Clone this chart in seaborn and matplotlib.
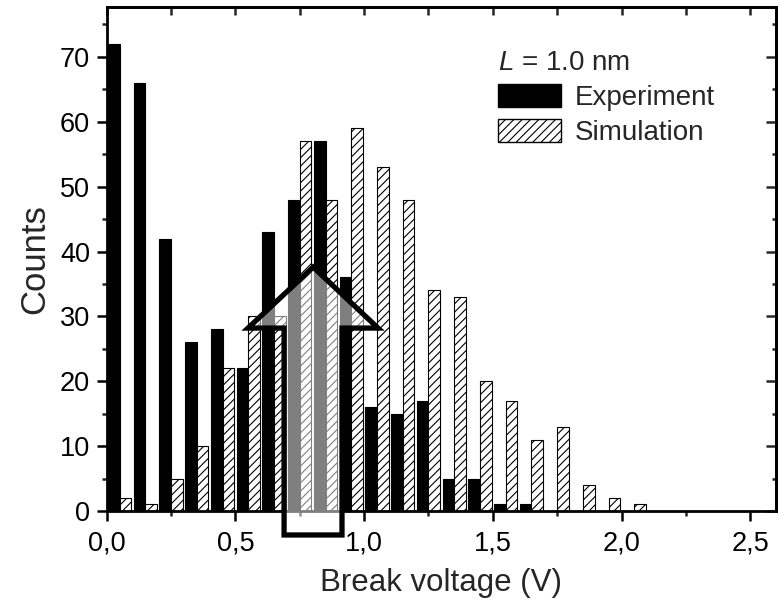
import numpy as np
import pandas as pd
import matplotlib
matplotlib.use('Agg')
import matplotlib.pyplot as plt
import seaborn as sns
from matplotlib.patches import Patch, Polygon
from matplotlib.ticker import MultipleLocator

# Bin centres of the break-voltage histogram (V) and counts per series
bin_centers = [0.05, 0.15, 0.25, 0.35, 0.45, 0.55, 0.65, 0.75, 0.85, 0.95, 1.05,
               1.15, 1.25, 1.35, 1.45, 1.55, 1.65, 1.75, 1.85, 1.95, 2.05]
experiment = [72, 66, 42, 26, 28, 22, 43, 48, 57, 36, 16,
              15, 17, 5, 5, 1, 1, 0, 0, 0, 0]
simulation = [2, 1, 5, 10, 22, 30, 30, 57, 48, 59, 53,
              48, 34, 33, 20, 17, 11, 13, 4, 2, 1]
series_names = ['Experiment', 'Simulation']
x_tick_values = [0.0, 0.5, 1.0, 1.5, 2.0, 2.5]
x_tick_labels = ['0,0', '0,5', '1,0', '1,5', '2,0', '2,5']
y_tick_values = [0, 10, 20, 30, 40, 50, 60, 70]

# Outline of the big hollow arrow drawn over the plot (data coords)
arrow_x = [0.802, 1.054, 0.914, 0.914, 0.689, 0.689, 0.549]
arrow_y = [37.6, 28.2, 28.2, -3.7, -3.7, 28.2, 28.2]

df = pd.DataFrame({
    'voltage': bin_centers * 2,
    'counts': experiment + simulation,
    'series': [series_names[0]] * len(experiment) + [series_names[1]] * len(simulation),
})

sns.set_style('ticks')
plt.rcParams['font.family'] = ['Liberation Sans', 'DejaVu Sans']
plt.rcParams['mathtext.fontset'] = 'custom'
plt.rcParams['mathtext.rm'] = 'Liberation Sans'
plt.rcParams['mathtext.it'] = 'Liberation Sans:italic'
plt.rcParams['hatch.linewidth'] = 0.8

fig = plt.figure(figsize=(7.8, 6.02), dpi=100)
ax = fig.add_axes([0.1368, 0.1512, 0.8581, 0.8372])

sns.barplot(data=df, x='voltage', y='counts', hue='series', hue_order=series_names,
            native_scale=True, width=0.9, dodge=True,
            palette={'Experiment': 'black', 'Simulation': 'white'},
            edgecolor='black', linewidth=0.8, saturation=1, legend=False, ax=ax)

# hatch the simulation bars (second hue group)
n = len(bin_centers)
for i, bar in enumerate(ax.patches):
    if i >= n:
        bar.set_hatch('////')
        bar.set_facecolor('white')
        bar.set_edgecolor('black')

ax.set_xlim(0, 2.6)
ax.set_ylim(0, 77.7)
ax.set_xticks(x_tick_values)
ax.set_xticklabels(x_tick_labels)
ax.set_yticks(y_tick_values)
ax.xaxis.set_minor_locator(MultipleLocator(0.25))
ax.yaxis.set_minor_locator(MultipleLocator(5))
ax.tick_params(axis='both', which='major', direction='out', length=7, width=1.8,
               labelsize=19.5, pad=5, colors='black')
ax.tick_params(axis='both', which='minor', direction='out', length=3.5, width=1.8)
ax.tick_params(axis='x', which='major', pad=7)

# mirrored ticks pointing inwards on top and right
top = ax.secondary_xaxis('top')
top.set_xticks(x_tick_values)
top.xaxis.set_minor_locator(MultipleLocator(0.25))
top.tick_params(which='both', direction='in', length=6, width=1.8, labeltop=False)
right = ax.secondary_yaxis('right')
right.set_yticks(y_tick_values)
right.yaxis.set_minor_locator(MultipleLocator(5))
right.tick_params(which='major', direction='in', length=7, width=1.8, labelright=False)
right.tick_params(which='minor', direction='in', length=3, width=1.8)
for a in (ax, top, right):
    for s in a.spines.values():
        s.set_linewidth(2.0)
        s.set_color('black')

ax.set_xlabel('Break voltage (V)', fontsize=22.5, labelpad=8)
ax.set_ylabel('Counts', fontsize=25, labelpad=6)

handles = [Patch(facecolor='black', edgecolor='black', label='Experiment'),
           Patch(facecolor='white', edgecolor='black', hatch='////', label='Simulation')]
leg = ax.legend(handles=handles, title='$L$ = 1.0 nm', loc='upper left',
                bbox_to_anchor=(0.585, 0.915), frameon=False, fontsize=20,
                title_fontsize=20, handlelength=2.27, handleheight=0.87,
                handletextpad=0.5, labelspacing=0.3, borderpad=0, borderaxespad=0,
                alignment='left')

# whitish veil + outline of the big arrow
pts = np.column_stack([arrow_x, arrow_y])
ax.add_patch(Polygon(pts, closed=True, facecolor='white', alpha=0.5,
                     edgecolor='none', zorder=5, clip_on=False))
ax.add_patch(Polygon(pts, closed=True, facecolor='none', edgecolor='black',
                     linewidth=3.8, joinstyle='miter', zorder=6, clip_on=False))

fig.savefig('out.png', dpi=100)
